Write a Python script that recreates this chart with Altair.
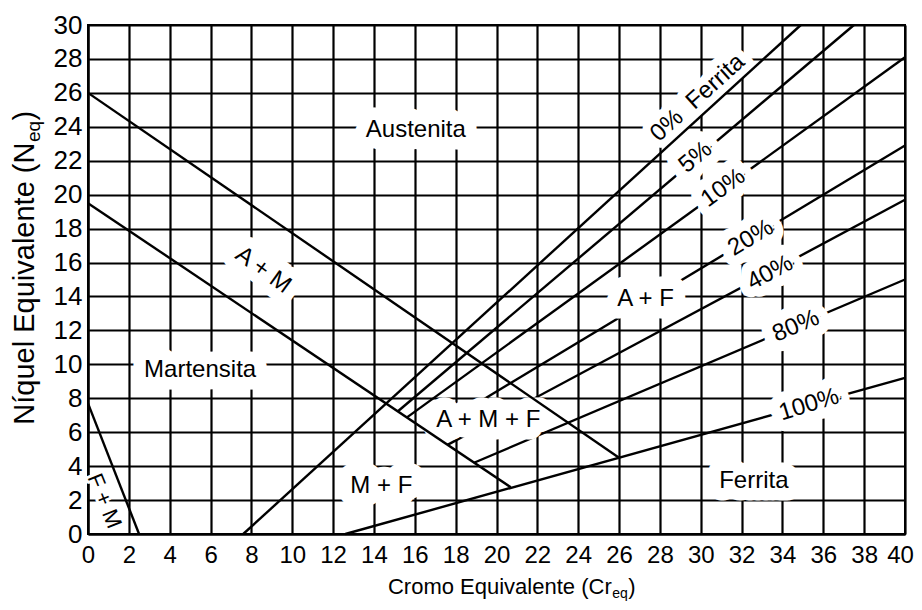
import altair as alt
import pandas as pd

# ---------------- data ----------------
x_ticks = list(range(0, 41, 2))
y_ticks = list(range(0, 31, 2))

# phase-boundary lines (drawn above the label halos)
boundary_names = ["A/A+M", "A+M/M", "F+M", "0%"]
boundary_x0 = [0.0, 0.0, 0.0, 7.6]
boundary_y0 = [26.0, 19.5, 7.7, 0.0]
boundary_x1 = [26.0, 20.7, 2.5, 34.9]
boundary_y1 = [4.5, 2.75, 0.0, 30.0]

# iso-ferrite lines (interrupted by their labels)
ferrite_names = ["5%", "10%", "20%", "40%", "80%", "100%"]
ferrite_x0 = [15.16, 15.6, 16.7, 17.6, 18.9, 12.6]
ferrite_y0 = [7.22, 6.86, 6.0, 5.25, 4.2, 0.0]
ferrite_x1 = [37.5, 40.0, 40.0, 40.0, 40.0, 40.0]
ferrite_y1 = [30.0, 28.1, 22.9, 19.7, 15.0, 9.2]

# region / line labels
label_text = ["Austenita", "A + M", "Martensita", "A + F", "A + M + F", "M + F",
              "Ferrita", "F + M", "0%\u00a0\u00a0Ferrita", "5%", "10%", "20%",
              "40%", "80%", "100%"]
label_x = [16.05, 8.58, 5.49, 27.3, 19.6, 14.36, 32.6, 0.8, 29.85, 29.75,
           31.1, 32.45, 33.4, 34.66, 35.3]
label_y = [23.8, 15.56, 9.66, 13.85, 6.72, 2.83, 3.12, 1.95, 25.7, 22.2,
           20.4, 17.45, 15.4, 12.25, 7.62]
label_angle = [0, 36, 0, 0, 0, 0, 0, 68, 318, 320, 324, 329, 332, 337, 343]
label_size = [24, 24, 24, 24, 24, 24, 24, 22, 24, 24, 24, 24, 24, 24, 24]
label_halo = [25, 22, 25, 25, 25, 25, 25, 6, 16, 21, 21, 21, 21, 22, 22]

x_title_main = "Cromo Equivalente (Cr"
y_title_main = "Níquel Equivalente (N"
title_sub = "eq"
title_close = ")"

FONT = "Liberation Sans, Arial, Helvetica, sans-serif"

# Helvetica/Arial advance widths (per 1000 em) for title layout
_W = {"C": 722, "r": 333, "o": 556, "m": 833, " ": 278, "E": 667, "q": 556,
      "u": 556, "i": 222, "v": 500, "a": 556, "l": 222, "e": 556, "n": 556,
      "t": 278, "(": 333, ")": 333, "N": 722, "í": 222}


def text_w(s, size):
    return sum(_W.get(c, 556) for c in s) * size / 1000.0


def seg_df(names, x0, y0, x1, y1):
    rows = []
    for n, a, b, c, d in zip(names, x0, y0, x1, y1):
        rows.append({"name": n, "x": a, "y": b, "o": 0})
        rows.append({"name": n, "x": c, "y": d, "o": 1})
    return pd.DataFrame(rows)


bound_df = seg_df(boundary_names, boundary_x0, boundary_y0, boundary_x1, boundary_y1)
ferr_df = seg_df(ferrite_names, ferrite_x0, ferrite_y0, ferrite_x1, ferrite_y1)
lab_df = pd.DataFrame({"t": label_text, "x": label_x, "y": label_y,
                       "a": label_angle, "h": label_halo, "s": label_size})

# ---------------- scales / axes ----------------
xs = alt.Scale(domain=[0, 40], nice=False, zero=False)
ys = alt.Scale(domain=[0, 30], nice=False, zero=False)

x_axis = alt.Axis(values=x_ticks, grid=True, gridColor="black", gridWidth=2.2,
                  gridOpacity=1, domainColor="black", domainWidth=2, ticks=False,
                  tickSize=0, labelFont=FONT, labelFontSize=24, labelColor="black",
                  labelPadding=9, labelFlush=False, labelOverlap=False, title=None,
                  labelOffset={"condition": {"test": "datum.value == 40", "value": -5},
                               "value": 0})
y_axis = alt.Axis(values=y_ticks, grid=True, gridColor="black", gridWidth=2.2,
                  gridOpacity=1, domainColor="black", domainWidth=2, ticks=False,
                  tickSize=0, labelFont=FONT, labelFontSize=26, labelColor="black",
                  labelPadding=6, labelFlush=False, labelOverlap=False, title=None)

X = alt.X("x:Q", scale=xs, axis=x_axis)
Y = alt.Y("y:Q", scale=ys, axis=y_axis)

ferr_lines = alt.Chart(ferr_df).mark_line(color="black", strokeWidth=2.4).encode(
    x=X, y=Y, detail="name:N", order="o:Q")

bound_lines = alt.Chart(bound_df).mark_line(color="black", strokeWidth=2.4).encode(
    x=X, y=Y, detail="name:N", order="o:Q")

halo = alt.Chart(lab_df).mark_text(
    font=FONT, fill="white", stroke="white", strokeJoin="round",
    baseline="middle", align="center").encode(
    x=X, y=Y, text="t:N", angle=alt.Angle("a:Q", scale=None),
    size=alt.Size("s:Q", scale=None),
    strokeWidth=alt.StrokeWidth("h:Q", scale=None))

labels = alt.Chart(lab_df).mark_text(
    font=FONT, color="black", baseline="middle", align="center").encode(
    x=X, y=Y, text="t:N", angle=alt.Angle("a:Q", scale=None),
    size=alt.Size("s:Q", scale=None))

# ---------------- axis titles with subscripts ----------------
one = pd.DataFrame({"k": [0]})


def txt(s, x, y, size, align, angle=0):
    return alt.Chart(one).mark_text(
        text=s, font=FONT, fontSize=size, color="black", align=align,
        baseline="alphabetic", angle=angle).encode(x=alt.value(x), y=alt.value(y))


# x title: starts at plot-relative x = 300
xt_size, xs_size = 22, 14
xt_start = 300
xt_main_end = xt_start + text_w(x_title_main, xt_size)
xt_sub_end = xt_main_end + text_w(title_sub, xs_size)
xt_base = 569

x_title = alt.layer(
    txt(x_title_main, xt_main_end, xt_base, xt_size, "right"),
    txt(title_sub, xt_main_end + 0.5, xt_base + 4, xs_size, "left"),
    txt(title_close, xt_sub_end + 1, xt_base, xt_size, "left"),
)

# y title: rotated, reading bottom to top, starts at plot-relative y = 398
yt_size, ys_size = 29, 19
yt_start = 398
yt_main_end = yt_start - text_w(y_title_main, yt_size)
yt_sub_end = yt_main_end - text_w(title_sub, ys_size)
yt_base = -54

y_title = alt.layer(
    txt(y_title_main, yt_base, yt_main_end, yt_size, "right", 270),
    txt(title_sub, yt_base + 6, yt_main_end - 0.5, ys_size, "left", 270),
    txt(title_close, yt_base, yt_sub_end - 1, yt_size, "left", 270),
)

chart = alt.layer(ferr_lines, halo, bound_lines, labels, x_title, y_title).properties(
    width=817, height=509,
    autosize=alt.AutoSizeParams(type="none"),
    padding={"left": 80, "top": 17, "right": 9, "bottom": 68},
).configure_view(stroke="black", strokeWidth=2)

chart.save("out.html", embed_options={"renderer": "svg", "actions": False})
